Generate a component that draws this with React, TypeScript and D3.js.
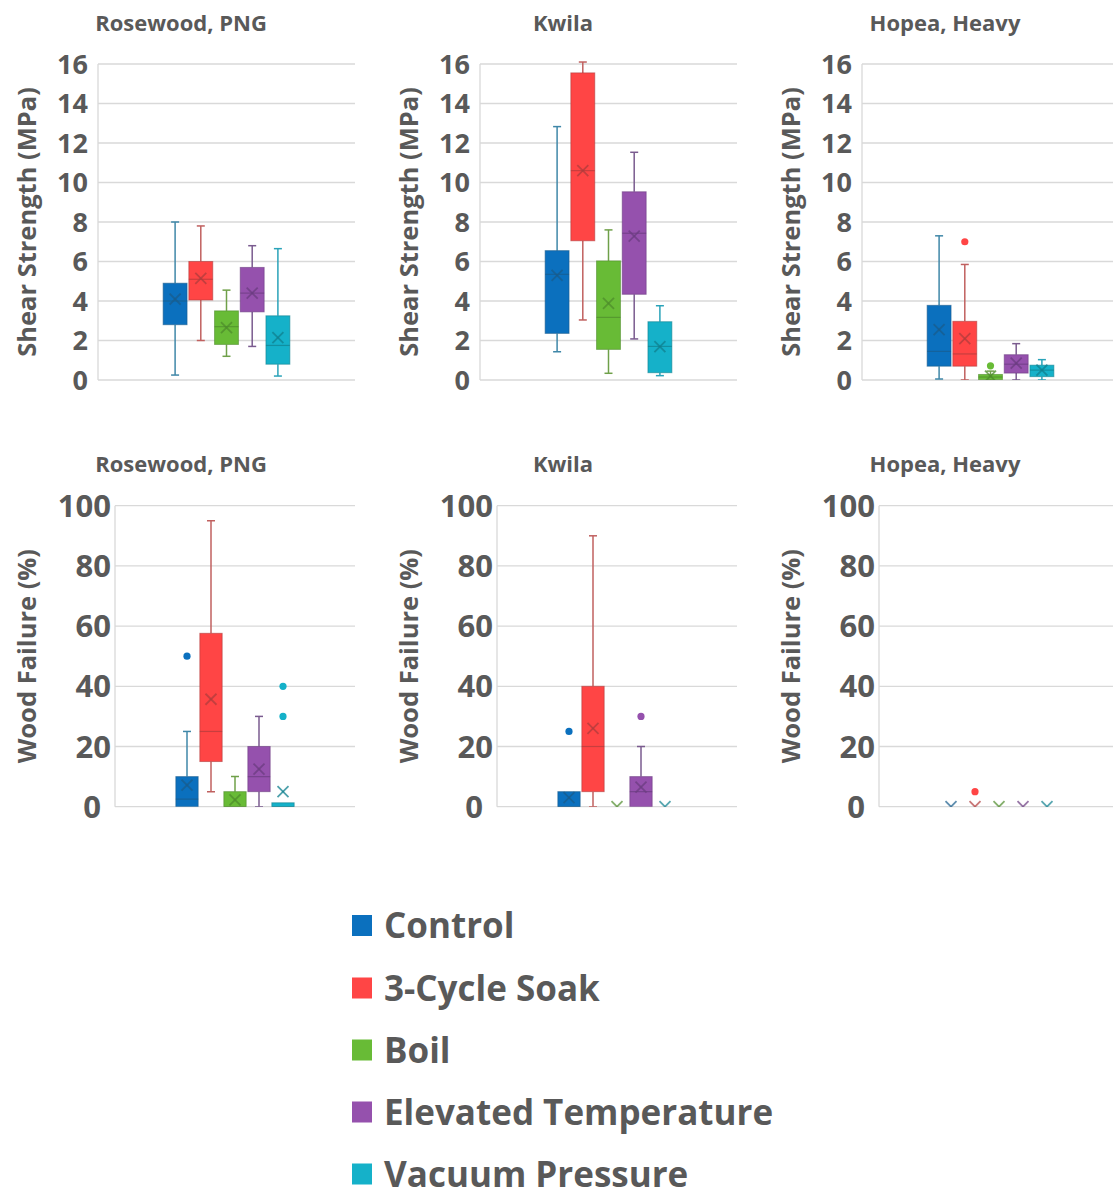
import React from "react";
import * as d3 from "d3";

const treatments = ["Control", "3-Cycle Soak", "Boil", "Elevated Temperature", "Vacuum Pressure"];
const species = ["Rosewood, PNG", "Kwila", "Hopea, Heavy"];
const shearTicks = [0, 2, 4, 6, 8, 10, 12, 14, 16];
const wfTicks = [0, 20, 40, 60, 80, 100];
const shearLabel = "Shear Strength (MPa)";
const wfLabel = "Wood Failure (%)";

// each row: [min, q1, median, q3, max, mean]
const shearRosewood = [
  [0.25, 2.8, 4.0, 4.9, 8.0, 4.1],
  [2.0, 4.05, 5.1, 6.0, 7.8, 5.15],
  [1.2, 1.8, 2.7, 3.5, 4.55, 2.65],
  [1.7, 3.45, 4.4, 5.7, 6.8, 4.4],
  [0.2, 0.8, 1.75, 3.25, 6.65, 2.15],
];
const shearRosewoodOutliers = [[], [], [], [], []];

const shearKwila = [
  [1.43, 2.36, 5.35, 6.55, 12.83, 5.3],
  [3.04, 7.05, 10.6, 15.55, 16.1, 10.6],
  [0.34, 1.55, 3.17, 6.03, 7.6, 3.88],
  [2.08, 4.34, 7.43, 9.53, 11.53, 7.29],
  [0.22, 0.37, 1.7, 2.95, 3.76, 1.69],
];
const shearKwilaOutliers = [[], [], [], [], []];

const shearHopea = [
  [0.05, 0.7, 1.45, 3.78, 7.3, 2.55],
  [0, 0.7, 1.32, 2.97, 5.85, 2.1],
  [0, 0.02, 0.15, 0.28, 0.45, 0.2],
  [0, 0.35, 0.8, 1.28, 1.84, 0.85],
  [0, 0.17, 0.5, 0.75, 1.03, 0.5],
];
const shearHopeaOutliers = [[], [7.0], [0.72], [], []];

const wfRosewood = [
  [0, 0, 2.5, 10, 25, 7.2],
  [5, 15, 25, 57.6, 95, 35.7],
  [0, 0, 0, 5, 10, 2.3],
  [0, 5, 10, 20, 30, 12.5],
  [0, 0, 0, 1.3, 1.3, 5],
];
const wfRosewoodOutliers = [[50], [], [], [], [30, 40]];

const wfKwila = [
  [0, 0, 0, 5, 5, 3],
  [0, 5, 20, 40, 90, 26],
  [0, 0, 0, 0, 0, 0],
  [0, 0, 5, 10, 20, 6.5],
  [0, 0, 0, 0, 0, 0],
];
const wfKwilaOutliers = [[25], [], [], [30], []];

const wfHopea = [
  [0, 0, 0, 0, 0, 0],
  [0, 0, 0, 0, 0, 0],
  [0, 0, 0, 0, 0, 0],
  [0, 0, 0, 0, 0, 0],
  [0, 0, 0, 0, 0, 0],
];
const wfHopeaOutliers = [[], [5], [], [], []];

// styles
const fills = ["#0B70BE", "#FF4545", "#68BB36", "#9551AD", "#15B1C9"];
const darks = ["#1A5C8C", "#B03C3C", "#4E8C2C", "#6B3C80", "#10808F"];
const whiskerCols = ["#3F87A8", "#C0605F", "#6FA049", "#7A5B8F", "#2AA3B9"];
const textCol = "#595959";
const gridCol = "#D9D9D9";
const FONT = "'Open Sans', 'DejaVu Sans', sans-serif";

type PanelProps = {
  id: string;
  px: number;
  title: string;
  titleY: number;
  top: number;
  bottom: number;
  leftOff: number;
  rightOff: number;
  max: number;
  ticks: number[];
  tickFont: number;
  tickGap: number;
  zeroDx: number;
  axisLabel: string;
  stats: number[][];
  outliers: number[][];
};

function Panel(p: PanelProps) {
  const L = p.px + p.leftOff;
  const R = p.px + p.rightOff;
  const w = R - L;
  const y = d3.scaleLinear().domain([0, p.max]).range([p.bottom, p.top]);
  const x = d3
    .scaleBand<string>()
    .domain(treatments)
    .range([L + w * 0.25, R - w * 0.25])
    .paddingInner(0.07)
    .paddingOuter(0.035);
  const bw = x.bandwidth();
  const cap = 4;
  const mk = 5.5;
  const clipId = `clip-${p.id}`;
  const axisMid = (p.top + p.bottom) / 2;
  return (
    <g>
      <defs>
        <clipPath id={clipId}>
          <rect x={L} y={p.top - 40} width={w} height={p.bottom - p.top + 40} />
        </clipPath>
      </defs>
      <text
        x={p.px + 181}
        y={p.titleY}
        textAnchor="middle"
        fontFamily={FONT}
        fontWeight={700}
        fontSize={22}
        fill={textCol}
      >
        {p.title}
      </text>
      {p.ticks.map((t) => (
        <line key={"g" + t} x1={L} x2={R} y1={y(t)} y2={y(t)} stroke={gridCol} strokeWidth={1.3} />
      ))}
      <line x1={L} x2={L} y1={p.top} y2={p.bottom} stroke={gridCol} strokeWidth={1.3} />
      {p.ticks.map((t) => (
        <text
          key={"t" + t}
          x={L - p.tickGap + (t === 0 ? p.zeroDx : 0)}
          y={y(t)}
          dy="0.36em"
          textAnchor="end"
          fontFamily={FONT}
          fontWeight={700}
          fontSize={p.tickFont}
          fill={textCol}
        >
          {t}
        </text>
      ))}
      <text
        transform={`translate(${p.px + 27},${axisMid}) rotate(-90)`}
        textAnchor="middle"
        dy="0.36em"
        fontFamily={FONT}
        fontWeight={700}
        fontSize={25.5}
        fill={textCol}
      >
        {p.axisLabel}
      </text>
      <g clipPath={`url(#${clipId})`}>
        {treatments.map((tr, i) => {
          const [mn, q1, med, q3, mx, mean] = p.stats[i];
          const x0 = x(tr)!;
          const cx = x0 + bw / 2;
          const hasBox = q3 > q1;
          return (
            <g key={tr}>
              {mx > q3 && (
                <g stroke={whiskerCols[i]} strokeWidth={1.5}>
                  <line x1={cx} x2={cx} y1={y(q3)} y2={y(mx)} />
                  <line x1={cx - cap} x2={cx + cap} y1={y(mx)} y2={y(mx)} />
                </g>
              )}
              {mn < q1 && (
                <g stroke={whiskerCols[i]} strokeWidth={1.5}>
                  <line x1={cx} x2={cx} y1={y(q1)} y2={y(mn)} />
                  <line x1={cx - cap} x2={cx + cap} y1={y(mn)} y2={y(mn)} />
                </g>
              )}
              {hasBox && (
                <rect
                  x={x0}
                  y={y(q3)}
                  width={bw}
                  height={y(q1) - y(q3)}
                  fill={fills[i]}
                  stroke={darks[i]}
                  strokeOpacity={0.6}
                  strokeWidth={1}
                />
              )}
              {hasBox && (
                <line
                  x1={x0}
                  x2={x0 + bw}
                  y1={y(med)}
                  y2={y(med)}
                  stroke={darks[i]}
                  strokeOpacity={0.7}
                  strokeWidth={1.2}
                />
              )}
              <g stroke={darks[i]} strokeOpacity={hasBox ? 0.75 : 0.7} strokeWidth={1.8}>
                <line x1={cx - mk} x2={cx + mk} y1={y(mean) - mk} y2={y(mean) + mk} />
                <line x1={cx - mk} x2={cx + mk} y1={y(mean) + mk} y2={y(mean) - mk} />
              </g>
              {p.outliers[i].map((o, j) => (
                <circle key={j} cx={cx} cy={y(o)} r={3.6} fill={fills[i]} />
              ))}
            </g>
          );
        })}
      </g>
    </g>
  );
}

const panelX = [0, 382, 764];
const shearStats = [shearRosewood, shearKwila, shearHopea];
const shearOut = [shearRosewoodOutliers, shearKwilaOutliers, shearHopeaOutliers];
const wfStats = [wfRosewood, wfKwila, wfHopea];
const wfOut = [wfRosewoodOutliers, wfKwilaOutliers, wfHopeaOutliers];

const legendRows = [925.5, 988, 1050, 1112, 1174];

export default function App() {
  return (
    <svg
      width={1113}
      height={1191}
      style={{ position: "absolute", left: 0, top: 0, background: "#fff" }}
    >
      <rect x={0} y={0} width={1113} height={1191} fill="#fff" />
      {species.map((s, k) => (
        <Panel
          key={"s" + k}
          id={"s" + k}
          px={panelX[k]}
          title={s}
          titleY={31}
          top={64}
          bottom={380}
          leftOff={98}
          rightOff={355}
          max={16}
          ticks={shearTicks}
          tickFont={27}
          tickGap={10}
          zeroDx={0}
          axisLabel={shearLabel}
          stats={shearStats[k]}
          outliers={shearOut[k]}
        />
      ))}
      {species.map((s, k) => (
        <Panel
          key={"w" + k}
          id={"w" + k}
          px={panelX[k]}
          title={s}
          titleY={472}
          top={505.7}
          bottom={806.7}
          leftOff={115}
          rightOff={355}
          max={100}
          ticks={wfTicks}
          tickFont={31}
          tickGap={4}
          zeroDx={-10}
          axisLabel={wfLabel}
          stats={wfStats[k]}
          outliers={wfOut[k]}
        />
      ))}
      {treatments.map((t, i) => (
        <g key={t}>
          <rect x={352} y={legendRows[i] - 10.5} width={20} height={21} fill={fills[i]} />
          <text
            x={384}
            y={legendRows[i]}
            dy="0.36em"
            fontFamily={FONT}
            fontWeight={700}
            fontSize={35}
            fill={textCol}
          >
            {t}
          </text>
        </g>
      ))}
    </svg>
  );
}
